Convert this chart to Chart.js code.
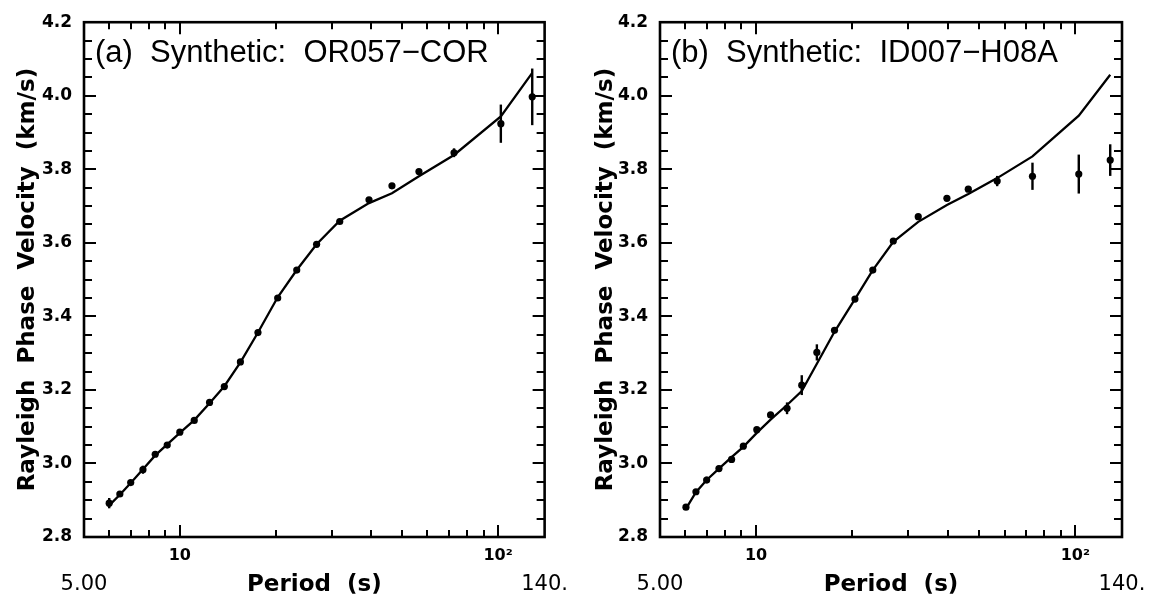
<!DOCTYPE html>
<html><head><meta charset="utf-8">
<script src="https://cdn.jsdelivr.net/npm/chart.js@4/dist/chart.umd.min.js"></script>
<style>
html,body{margin:0;padding:0;background:#fff;}
#wrap{position:relative;width:1156px;height:606px;background:#fff;}
.pane{position:absolute;top:0;width:578px;height:606px;}
</style></head><body>
<div id="wrap">
<div class="pane" style="left:0"><canvas id="cA" width="578" height="606"></canvas></div>
<div class="pane" style="left:578px"><canvas id="cB" width="578" height="606"></canvas></div>
</div>
<script>
// ---------- data ----------
const periodsA = [6.0, 6.48, 7.01, 7.66, 8.37, 9.13, 10.0, 11.1, 12.4, 13.8, 15.5, 17.6, 20.3, 23.3, 26.9, 31.8, 39.3, 46.4, 56.4, 72.7, 102, 128];
const velA     = [2.892, 2.917, 2.948, 2.983, 3.025, 3.050, 3.085, 3.117, 3.166, 3.209, 3.276, 3.356, 3.450, 3.526, 3.596, 3.658, 3.717, 3.755, 3.794, 3.845, 3.924, 3.997];
const errA     = [0.014, 0.005, 0.005, 0.011, 0.005, 0.005, 0.005, 0.005, 0.005, 0.005, 0.005, 0.005, 0.005, 0.005, 0.005, 0.005, 0.005, 0.005, 0.005, 0.012, 0.052, 0.077];
const modelA   = [2.886, 2.915, 2.947, 2.984, 3.022, 3.052, 3.083, 3.118, 3.164, 3.210, 3.275, 3.356, 3.452, 3.526, 3.596, 3.660, 3.708, 3.735, 3.781, 3.839, 3.944, 4.062];

const periodsB = [6.03, 6.48, 7.0, 7.65, 8.38, 9.12, 10.05, 11.1, 12.5, 13.9, 15.5, 17.6, 20.4, 23.2, 26.9, 32.2, 39.6, 46.2, 56.9, 73.4, 102.5, 128.6];
const velB     = [2.881, 2.923, 2.955, 2.986, 3.011, 3.047, 3.092, 3.132, 3.150, 3.213, 3.302, 3.362, 3.447, 3.526, 3.605, 3.671, 3.721, 3.746, 3.768, 3.781, 3.787, 3.825];
const errB     = [0.005, 0.005, 0.009, 0.008, 0.005, 0.005, 0.005, 0.005, 0.016, 0.027, 0.022, 0.007, 0.005, 0.005, 0.005, 0.005, 0.005, 0.005, 0.014, 0.037, 0.053, 0.043];
const modelB   = [2.877, 2.922, 2.955, 2.986, 3.017, 3.045, 3.083, 3.119, 3.159, 3.197, 3.271, 3.358, 3.447, 3.526, 3.603, 3.657, 3.703, 3.733, 3.776, 3.835, 3.946, 4.057];

const xTickValues = [5, 10, 100, 140];
const xTickLabels = [['', '5.00'], '10', '10\u00B2', ['', '140.']];
const xTickMarks  = [6, 7, 8, 9, 10, 20, 30, 40, 50, 60, 70, 80, 90, 100];
const xMajorMarks = [10, 100];
const yTickValues = [2.8, 3.0, 3.2, 3.4, 3.6, 3.8, 4.0, 4.2];
const yTickLabels = ['2.8', '3.0', '3.2', '3.4', '3.6', '3.8', '4.0', '4.2'];
const yMinorStep = 0.05;

const titleA = '(a)  Synthetic:  OR057\u2212COR';
const titleB = '(b)  Synthetic:  ID007\u2212H08A';
const xTitle = 'Period  (s)';
const yTitle = 'Rayleigh  Phase  Velocity  (km/s)';

// ---------- decoration plugin: error bars, frame, inward ticks, panel title ----------
const deco = {
  id: 'panelDeco',
  afterDatasetsDraw(chart) {
    const {ctx, scales: {x, y}} = chart;
    const ds = chart.data.datasets[1];
    ctx.save();
    ctx.strokeStyle = '#000';
    ctx.lineWidth = 2.4;
    ds.data.forEach((pt, i) => {
      const e = ds.errors[i];
      const px = x.getPixelForValue(pt.x);
      ctx.beginPath();
      ctx.moveTo(px, y.getPixelForValue(pt.y - e));
      ctx.lineTo(px, y.getPixelForValue(pt.y + e));
      ctx.stroke();
    });
    ctx.restore();
  },
  afterDraw(chart, args, opts) {
    const {ctx, chartArea: a, scales: {x, y}} = chart;
    ctx.save();
    ctx.strokeStyle = '#000';
    ctx.lineWidth = 2.6;
    ctx.strokeRect(a.left, a.top, a.right - a.left, a.bottom - a.top);
    ctx.lineWidth = 2;
    const seg = (x1, y1, x2, y2) => { ctx.beginPath(); ctx.moveTo(x1, y1); ctx.lineTo(x2, y2); ctx.stroke(); };
    xTickMarks.forEach(v => {
      const px = Math.round(x.getPixelForValue(v));
      const len = xMajorMarks.includes(v) ? 12 : 7;
      seg(px, a.bottom, px, a.bottom - len);
      seg(px, a.top, px, a.top + len);
    });
    const n = Math.round((y.max - y.min) / yMinorStep);
    for (let k = 1; k < n; k++) {
      const v = y.min + k * yMinorStep;
      const py = Math.round(y.getPixelForValue(v));
      const len = (k % 4 === 0) ? 12 : 8;
      seg(a.left, py, a.left + len, py);
      seg(a.right, py, a.right - len, py);
    }
    ctx.fillStyle = '#000';
    ctx.font = '31px "Liberation Sans", Arial, sans-serif';
    ctx.textBaseline = 'alphabetic';
    ctx.textAlign = 'left';
    ctx.fillText(opts.title, a.left + 11, 62);
    ctx.restore();
  }
};

function makePanel(id, title, periods, vel, err, model, yWidth, rightPad) {
  return new Chart(document.getElementById(id), {
    type: 'scatter',
    data: {
      datasets: [
        { data: periods.map((p, i) => ({x: p, y: model[i]})), showLine: true, borderColor: '#000',
          borderWidth: 2.3, pointRadius: 0, tension: 0, fill: false },
        { data: periods.map((p, i) => ({x: p, y: vel[i]})), showLine: false, pointRadius: 3.6,
          pointBackgroundColor: '#000', pointBorderColor: '#000', pointBorderWidth: 0, errors: err }
      ]
    },
    options: {
      responsive: false,
      animation: false,
      events: [],
      layout: { padding: { left: 0, right: rightPad, top: 16, bottom: 0 } },
      plugins: { legend: { display: false }, tooltip: { enabled: false }, panelDeco: { title: title } },
      scales: {
        x: {
          type: 'logarithmic', min: 5, max: 140, position: 'bottom',
          grid: { display: false, drawTicks: false }, border: { display: false },
          afterBuildTicks: s => { s.ticks = xTickValues.map(v => ({value: v})); },
          afterFit: s => { s.height = 69; },
          ticks: {
            autoSkip: false, maxRotation: 0, minRotation: 0, padding: 10, color: '#000',
            callback: (v, i) => xTickLabels[i],
            font: c => (c.index === 0 || c.index === 3)
              ? { family: 'DejaVu Sans', size: 21, weight: 'normal', lineHeight: 1.2 }
              : { family: 'DejaVu Sans', size: 16, weight: 'bold', lineHeight: 1.15 }
          },
          title: { display: true, text: xTitle, color: '#000',
                   font: { family: 'DejaVu Sans', size: 23, weight: 'bold', lineHeight: 1.2 },
                   padding: { top: 0, bottom: 7 } }
        },
        y: {
          min: 2.8, max: 4.2,
          grid: { display: false, drawTicks: false }, border: { display: false },
          afterBuildTicks: s => { s.ticks = yTickValues.map(v => ({value: v})); },
          afterFit: s => { s.width = yWidth; },
          ticks: { padding: 12, color: '#000', callback: (v, i) => yTickLabels[i],
                   font: { family: 'DejaVu Sans', size: 17, weight: 'bold' } },
          title: { display: true, text: yTitle, color: '#000',
                   font: { family: 'DejaVu Sans', size: 23, weight: 'bold', lineHeight: 1.2 },
                   padding: { top: 14, bottom: 0 } }
        }
      }
    },
    plugins: [deco]
  });
}

makePanel('cA', titleA, periodsA, velA, errA, modelA, 84, 31);
makePanel('cB', titleB, periodsB, velB, errB, modelB, 82, 34);
</script>
</body></html>
